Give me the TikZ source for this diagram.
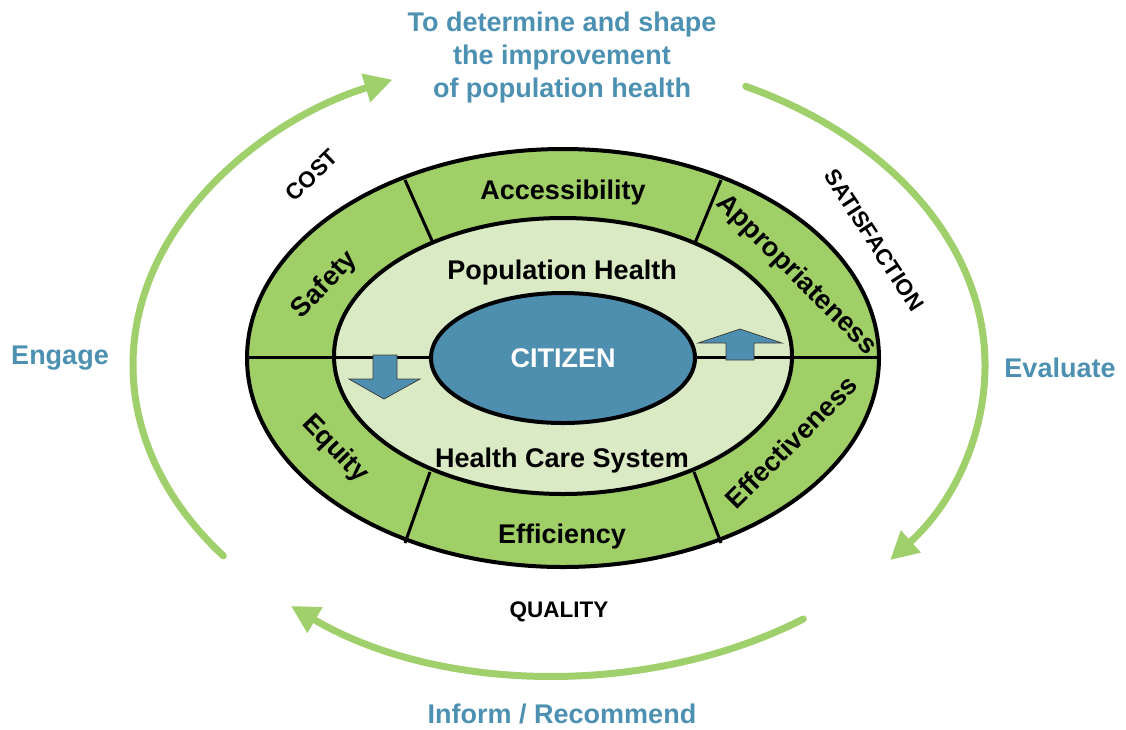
\documentclass[tikz,border=0pt]{standalone}
\usepackage{fontspec}
\setmainfont{Liberation Sans}
\usetikzlibrary{arrows.meta,calc}
\definecolor{ringgreen}{HTML}{A0CE67}
\definecolor{innergreen}{HTML}{D9EAC4}
\definecolor{citblue}{HTML}{4E8EAF}
\definecolor{txtblue}{HTML}{4C91B2}
\definecolor{arrowgreen}{HTML}{A0D06B}
\begin{document}
\begin{tikzpicture}[x=1pt,y=-1pt,
  big/.style={font=\fontsize{27}{33}\selectfont\bfseries, inner sep=0pt},
  small/.style={font=\fontsize{22.5}{26}\selectfont\bfseries, inner sep=0pt},
  bluelbl/.style={big, text=txtblue, align=center},
  cyclearrow/.style={draw=arrowgreen, line width=7pt, line cap=round, -{Triangle[length=28pt,width=28pt]}},
  outline/.style={draw=black, line width=4pt},
  divider/.style={draw=black, line width=3pt},
  bluearrow/.style={fill=citblue, draw=black!75, line width=0.8pt, line join=miter}
]
\useasboundingbox (0,0) rectangle (1126,729);
\coordinate (C) at (559,365);
\coordinate (O) at (563,358);
\coordinate (M) at (563,356);

% rings
\fill[ringgreen] (O) ellipse[x radius=316pt, y radius=209pt];
\fill[innergreen] (M) ellipse[x radius=229pt, y radius=138pt];
\coordinate (hl) at (247,357);
\coordinate (hr) at (879,357);
\draw[divider] (hl) -- (hr);
\coordinate (d1o) at (405,180); \coordinate (d1i) at (433,243);
\coordinate (d2o) at (721,180); \coordinate (d2i) at (695,243);
\coordinate (d3o) at (405,543); \coordinate (d3i) at (430,472);
\coordinate (d4o) at (721,543); \coordinate (d4i) at (694,472);
\draw[divider] (d1o) -- (d1i);
\draw[divider] (d2o) -- (d2i);
\draw[divider] (d3o) -- (d3i);
\draw[divider] (d4o) -- (d4i);
\draw[outline] (O) ellipse[x radius=316pt, y radius=209pt];
\draw[outline] (M) ellipse[x radius=229pt, y radius=138pt];
\filldraw[fill=citblue, draw=black, line width=4pt] (O) ellipse[x radius=132pt, y radius=65pt];

% blue arrows
\draw[bluearrow] (373,355) -- (397,355) -- (397,379) -- (420,379) -- (384,399) -- (349,379) -- (373,379) -- cycle;
\draw[bluearrow] (726,360) -- (754,360) -- (754,343) -- (782,343) -- (740,329) -- (698,343) -- (726,343) -- cycle;

% cycle arrows
\draw[cyclearrow] ($(C)+(218:426pt and 310pt)$) arc[start angle=218, end angle=113, x radius=426pt, y radius=310pt];
\draw[cyclearrow] ($(C)+(64:426pt and 310pt)$) arc[start angle=64, end angle=-39, x radius=426pt, y radius=310pt];
\draw[cyclearrow] ($(C)+(-55:426pt and 310pt)$) arc[start angle=-55, end angle=-129, x radius=426pt, y radius=310pt];

% outer labels
\node[bluelbl] (goal) at (562,58) {To determine and shape\\the improvement\\of population health};
\node[bluelbl] (engage) at (60,358) {Engage};
\node[bluelbl] (evaluate) at (1060,368) {Evaluate};
\node[bluelbl] (inform) at (562,714) {Inform / Recommend};
\node[small, rotate=44] (cost) at (312,175) {COST};
\node[small, rotate=-57] (satis) at (874,240) {SATISFACTION};
\node[small] (quality) at (559,612) {QUALITY};

% ring labels
\node[big] (access) at (563,193) {Accessibility};
\node[big] (effic) at (562,537) {Efficiency};
\node[big, rotate=46] (safety) at (325,285) {Safety};
\node[big, rotate=-46] (equity) at (335,449) {Equity};
\node[big, rotate=-45] (approp) at (796,275) {Appropriateness};
\node[big, rotate=45] (effect) at (791,442) {Effectiveness};
\node[big] (pop) at (562,273) {Population Health};
\node[big] (hcs) at (562,461) {Health Care System};
\node[big, text=white] (cit) at (563,358) {CITIZEN};
\end{tikzpicture}
\end{document}
